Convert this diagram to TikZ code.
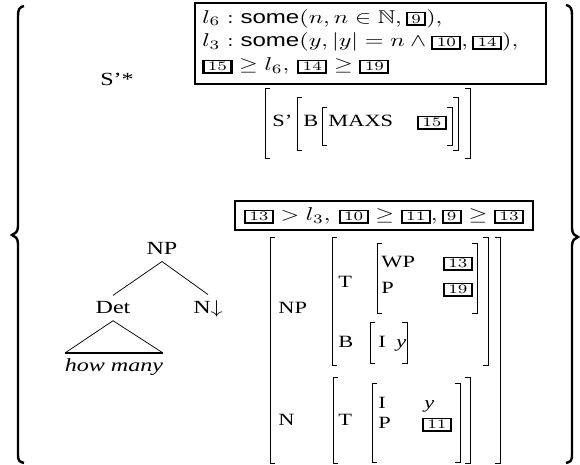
\documentclass[tikz,border=0pt]{standalone}
\usepackage{amssymb}
\usepackage[no-math]{fontspec}
\setmainfont{Liberation Serif}
\setsansfont{Liberation Sans}
\usetikzlibrary{positioning}
\setlength{\fboxsep}{0.8pt}
\setlength{\fboxrule}{0.85pt}
\newcommand{\bnum}[1]{\fbox{\kern0.6pt$\scriptstyle #1$\kern0.6pt}}
\newcommand{\lbrk}[3]{\draw[brk] (#1+5,#2) -- (#1,#2) -- (#1,#3) -- (#1+5,#3);}
\newcommand{\rbrk}[3]{\draw[brk] (#1-5,#2) -- (#1,#2) -- (#1,#3) -- (#1-5,#3);}

\begin{document}
\begin{tikzpicture}[x=0.4154pt,y=-0.54pt,xscale=1.3,
   every node/.style={transform shape},
   lbl/.style={font=\fontsize{9.3}{11}\selectfont,inner sep=0pt,anchor=base west},
   num/.style={inner sep=0pt,anchor=base},
   brk/.style={line width=0.5pt},
   frame/.style={line width=1.1pt},
   brace/.style={line width=1.3pt}]
   \useasboundingbox (0,0) rectangle (580,465);
   % the two big braces
   \draw[brace] (24,6) .. controls (19,7) and (18,10) .. (18,16) -- (18,226)
      .. controls (18,232) and (15,234) .. (12,235)
      .. controls (15,236) and (18,238) .. (18,244) -- (18,455)
      .. controls (18,460) and (19,462) .. (24,463);
   \draw[brace] (566,5) .. controls (571,6) and (572,9) .. (572,15) -- (572,228)
      .. controls (572,234) and (575,236) .. (578,237)
      .. controls (575,238) and (572,240) .. (572,246) -- (572,455)
      .. controls (572,460) and (571,462) .. (566,463);
   % upper part
   \node (sstar) at (117,79) {S'*};
   \draw[frame] (195,3) rectangle (546,84);
   \node[anchor=base west,inner sep=0pt] (cons1) at (202,23)
      {$l_6 : \textsf{some}(n, n \in \mathbb{N}, \bnum{9}),$};
   \node[anchor=base west,inner sep=0pt] (cons2) at (202,47)
      {$l_3 : \textsf{some}(y, |y| = n \wedge \bnum{10}, \bnum{14}),$};
   \node[anchor=base west,inner sep=0pt] (cons3) at (202,71)
      {$\bnum{15} \geq l_6,\, \bnum{14} \geq \bnum{19}$};
   \lbrk{265}{88}{158} \rbrk{470}{88}{158}
   \lbrk{297}{97}{150} \rbrk{458}{97}{150}
   \lbrk{322}{107}{145} \rbrk{452}{107}{145}
   \node[lbl] (sp) at (272,127) {S'};
   \node[lbl] (sb) at (303,127) {B};
   \node[lbl] (maxs) at (328,127) {MAXS};
   \node[num] (maxsv) at (432,127) {\bnum{15}};
   % lower part
   \draw[frame] (235,201) rectangle (533,230);
   \node[anchor=base,inner sep=0pt] (cons4) at (384,221)
      {$\bnum{13} > l_3,\, \bnum{10} \geq \bnum{11}, \bnum{9} \geq \bnum{13}$};
   \node[anchor=base] (np) at (162,255) {NP};
   \node[anchor=base] (det) at (113,314) {Det};
   \node[anchor=base] (nfoot) at (208,314) {N$\downarrow$};
   \coordinate (tl) at (65,353);
   \coordinate (tr) at (163,353);
   \draw (np.south) -- (det.north);
   \draw (np.south) -- (nfoot.north);
   \draw (tl) -- (det.south) -- (tr);
   \draw[line width=1pt] (tl) -- (tr);
   \node[anchor=base] (howmany) at (114,372) {\textit{how many}};
   \lbrk{270}{237}{463} \rbrk{500}{237}{463}
   \lbrk{332}{237}{365} \rbrk{488}{237}{365}
   \lbrk{377}{243}{313} \rbrk{477}{243}{313}
   \lbrk{370}{322}{363} \rbrk{407}{322}{363}
   \lbrk{333}{377}{463} \rbrk{470}{377}{463}
   \lbrk{372}{383}{462} \rbrk{460}{383}{462}
   \node[lbl] (fnp) at (278,314) {NP};
   \node[lbl] (ft1) at (338,288) {T};
   \node[lbl] (fwp) at (381,268) {WP};
   \node[num] (fwpv) at (458,268) {\bnum{13}};
   \node[lbl] (fp1) at (381,294) {P};
   \node[num] (fp1v) at (458,294) {\bnum{19}};
   \node[lbl] (fb) at (338,348) {B};
   \node[lbl] (fi1) at (378,348) {I};
   \node[lbl] (fi1v) at (396,348) {\textit{y}};
   \node[lbl] (fn) at (278,426) {N};
   \node[lbl] (ft2) at (338,426) {T};
   \node[lbl] (fi2) at (378,409) {I};
   \node[lbl] (fi2v) at (424,409) {\textit{y}};
   \node[lbl] (fp2) at (378,429) {P};
   \node[num] (fp2v) at (437,429) {\bnum{11}};
\end{tikzpicture}
\end{document}
